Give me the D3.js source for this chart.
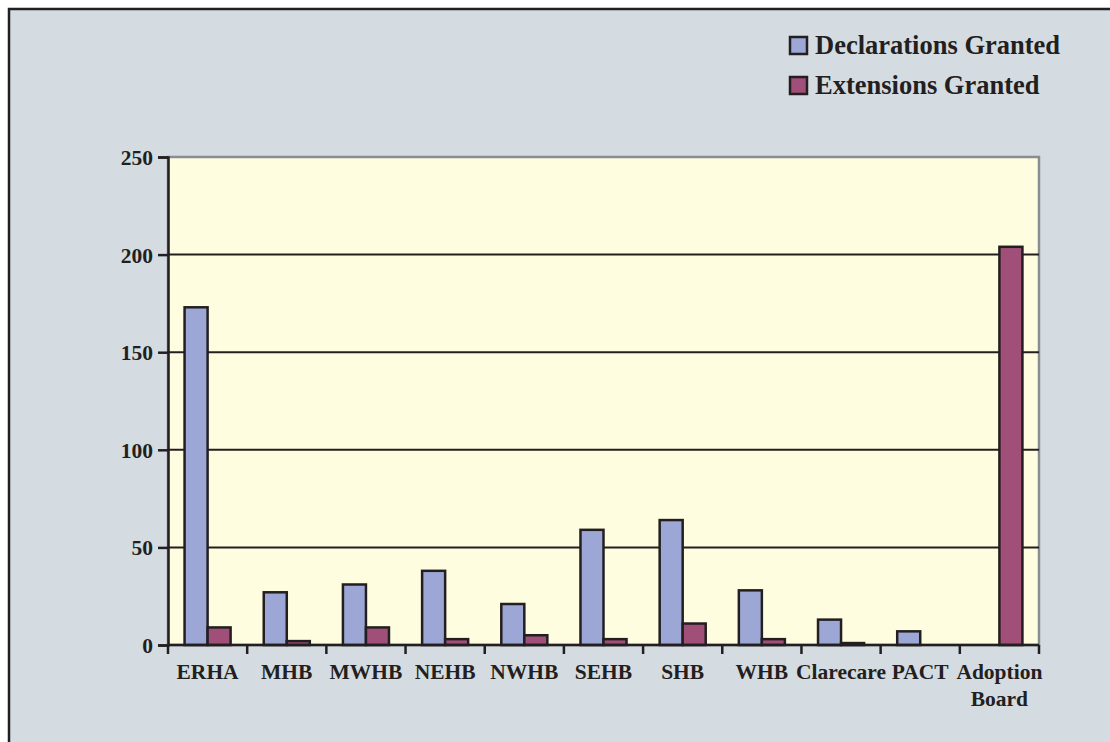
<!DOCTYPE html>
<html>
<head>
<meta charset="utf-8">
<script src="https://cdn.jsdelivr.net/npm/d3@7"></script>
<style>
  html, body { margin: 0; padding: 0; background: #ffffff; }
  svg { display: block; }
  text { font-family: "Liberation Serif", "Times New Roman", serif; font-weight: bold; fill: #231f20; }
</style>
</head>
<body>
<svg id="chart" width="1110" height="742"></svg>
<script>
// Agency categories along the x axis
const categories = ["ERHA", "MHB", "MWHB", "NEHB", "NWHB", "SEHB", "SHB", "WHB", "Clarecare", "PACT", "Adoption Board"];
// Series values
const declarationsGranted = [173, 27, 31, 38, 21, 59, 64, 28, 13, 7, 0];
const extensionsGranted   = [9, 2, 9, 3, 5, 3, 11, 3, 1, 0, 204];
const seriesNames = ["Declarations Granted", "Extensions Granted"];
const yTicks = [0, 50, 100, 150, 200, 250];

const colors = { "Declarations Granted": "#9ca7d5", "Extensions Granted": "#a04f78" };

const W = 1110, H = 742;
const margin = { left: 168, right: 71, top: 157, bottom: 97 };
const innerW = W - margin.left - margin.right;
const innerH = H - margin.top - margin.bottom;

const svg = d3.select("#chart");

// Outer frame
svg.append("rect").attr("x", 0).attr("y", 0).attr("width", W).attr("height", H).attr("fill", "#ffffff");
svg.append("rect").attr("x", 9).attr("y", 9).attr("width", W + 20).attr("height", H + 20)
  .attr("fill", "#d4dce2").attr("stroke", "#231f20").attr("stroke-width", 2.5);

const g = svg.append("g").attr("transform", `translate(${margin.left},${margin.top})`);

const x = d3.scaleBand().domain(categories).range([0, innerW]).paddingInner(0).paddingOuter(0);
const x1 = d3.scaleBand().domain(seriesNames).range([0, x.bandwidth()]).paddingInner(0).paddingOuter(0.72);
const y = d3.scaleLinear().domain([0, 250]).range([innerH, 0]);

// Plot background with grey top/right edges
g.append("rect").attr("x", 0).attr("y", 0).attr("width", innerW).attr("height", innerH)
  .attr("fill", "#fffde0").attr("stroke", "#868e94").attr("stroke-width", 2.5);

// Gridlines
g.append("g").selectAll("line").data(yTicks.filter(d => d > 0 && d < 250)).join("line")
  .attr("x1", 0).attr("x2", innerW).attr("y1", d => y(d)).attr("y2", d => y(d))
  .attr("stroke", "#231f20").attr("stroke-width", 2);

// Bars
const rows = categories.map((c, i) => ({ cat: c, vals: [
  { name: seriesNames[0], v: declarationsGranted[i] },
  { name: seriesNames[1], v: extensionsGranted[i] }
]}));

const grp = g.append("g").selectAll("g").data(rows).join("g")
  .attr("transform", d => `translate(${x(d.cat)},0)`);
grp.selectAll("rect").data(d => d.vals.filter(v => v.v > 0)).join("rect")
  .attr("x", d => x1(d.name))
  .attr("width", x1.bandwidth())
  .attr("y", d => y(d.v))
  .attr("height", d => y(0) - y(d.v))
  .attr("fill", d => colors[d.name])
  .attr("stroke", "#231f20").attr("stroke-width", 2.5);

// Y axis
const yAxis = g.append("g").call(d3.axisLeft(y).tickValues(yTicks).tickSize(10).tickPadding(5));
yAxis.select(".domain").attr("stroke", "#231f20").attr("stroke-width", 2.5);
yAxis.selectAll(".tick line").attr("stroke", "#231f20").attr("stroke-width", 2.5);
yAxis.selectAll("text").style("font-size", "21.5px").attr("dy", "0.35em").attr("fill", "#231f20");

// X axis with ticks at band boundaries
const xAxisG = g.append("g").attr("transform", `translate(0,${innerH})`);
xAxisG.append("line").attr("x1", 0).attr("x2", innerW).attr("y1", 0).attr("y2", 0)
  .attr("stroke", "#231f20").attr("stroke-width", 2.5);
const bounds = categories.map(c => x(c)).concat([innerW]);
xAxisG.selectAll("line.tk").data(bounds).join("line").attr("class", "tk")
  .attr("x1", d => d).attr("x2", d => d).attr("y1", 0).attr("y2", 9)
  .attr("stroke", "#231f20").attr("stroke-width", 2.5);
const lbl = xAxisG.selectAll("text").data(categories).join("text")
  .attr("x", d => x(d) + x.bandwidth() / 2)
  .attr("y", 34)
  .attr("text-anchor", "middle")
  .style("font-size", "21.5px");
lbl.each(function(d) {
  const parts = d === "Adoption Board" ? ["Adoption", "Board"] : [d];
  const t = d3.select(this);
  parts.forEach((p, i) => t.append("tspan").attr("x", x(d) + x.bandwidth() / 2).attr("dy", i === 0 ? 0 : 27).text(p));
});

// Legend
const legend = svg.append("g").attr("transform", "translate(790,37)");
seriesNames.forEach((s, i) => {
  const row = legend.append("g").attr("transform", `translate(0,${i * 40})`);
  row.append("rect").attr("x", 0).attr("y", 0).attr("width", 17).attr("height", 17)
    .attr("fill", colors[s]).attr("stroke", "#231f20").attr("stroke-width", 2.5);
  row.append("text").attr("x", 25).attr("y", 17).style("font-size", "26.5px").text(s);
});
</script>
</body>
</html>
